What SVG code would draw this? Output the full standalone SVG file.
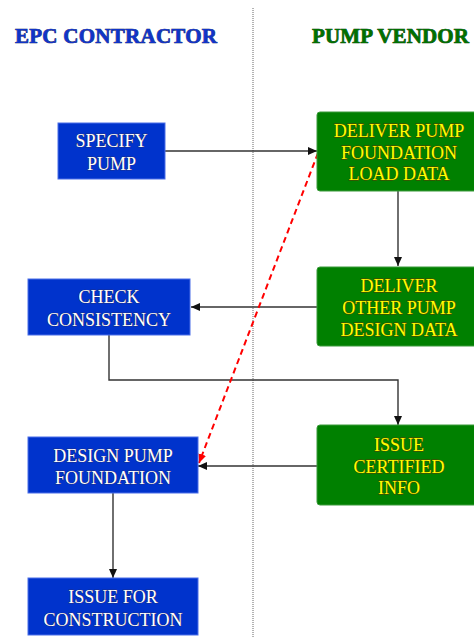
<svg xmlns="http://www.w3.org/2000/svg" width="474" height="638" viewBox="0 0 474 638">
  <style>
    .hdr { font-family: 'Liberation Serif', 'DejaVu Serif', serif; font-weight: bold; font-size: 21px; stroke-width: 0.7; paint-order: stroke; }
    .blue rect { fill: #0033cc; stroke: #4a6ee8; stroke-width: 1; }
    .green rect { fill: #008000; stroke: #3a9a3a; stroke-width: 1; }
    .lbl { font-family: 'Liberation Serif', 'DejaVu Serif', serif; font-size: 18px; text-anchor: middle; }
    .blue .lbl { fill: #ffffff; stroke: #3a2a40; stroke-width: 0.6; paint-order: stroke; }
    .green .lbl { fill: #ffff00; stroke: #5a3a00; stroke-width: 0.8; paint-order: stroke; }
    .conn { fill: none; stroke: #333333; stroke-width: 1.4; }
    .dash { fill: none; stroke: #ff0000; stroke-width: 2; stroke-dasharray: 6 4; }
  </style>
  <defs>
    <marker id="arrow" markerUnits="userSpaceOnUse" markerWidth="10" markerHeight="10" refX="9" refY="5" orient="auto">
      <path d="M0,1 L9,5 L0,9 Z" fill="#111111"/>
    </marker>
    <marker id="arrowRed" markerUnits="userSpaceOnUse" markerWidth="10" markerHeight="10" refX="9" refY="5" orient="auto">
      <path d="M0,1 L9,5 L0,9 Z" fill="#ff0000"/>
    </marker>
  </defs>

  <rect width="474" height="638" fill="#ffffff"/>

  <!-- swimlane divider -->
  <line x1="253" y1="8" x2="253" y2="638" stroke="#666666" stroke-width="1" stroke-dasharray="1 1"/>

  <!-- lane headings -->
  <text id="lane-epc" class="hdr" x="15" y="42.5" fill="#1034c8" stroke="#0a1460" textLength="202">EPC CONTRACTOR</text>
  <text id="lane-vendor" class="hdr" x="312" y="42.5" fill="#007000" stroke="#003000" textLength="157">PUMP VENDOR</text>

  <!-- connectors -->
  <g id="connectors">
    <path class="conn" d="M165,151 H317" marker-end="url(#arrow)"/>
    <path class="conn" d="M398,191 V266" marker-end="url(#arrow)"/>
    <path class="conn" d="M317,307 H191" marker-end="url(#arrow)"/>
    <path class="conn" d="M109,335 V380 H398 V425" marker-end="url(#arrow)"/>
    <path class="conn" d="M317,466 H198" marker-end="url(#arrow)"/>
    <path class="conn" d="M113,493 V578" marker-end="url(#arrow)"/>
    <path class="dash" d="M318,153 L199,463" marker-end="url(#arrowRed)"/>
  </g>

  <!-- EPC contractor tasks -->
  <g id="specify-pump" class="blue">
    <rect x="58" y="123" width="107" height="56"/>
    <text class="lbl" x="111.5" y="147">SPECIFY</text>
    <text class="lbl" x="111.5" y="170">PUMP</text>
  </g>
  <g id="check-consistency" class="blue">
    <rect x="28" y="279" width="162" height="56"/>
    <text class="lbl" x="109" y="303">CHECK</text>
    <text class="lbl" x="109" y="325.5">CONSISTENCY</text>
  </g>
  <g id="design-pump-foundation" class="blue">
    <rect x="28" y="437" width="170" height="56"/>
    <text class="lbl" x="113" y="461.5">DESIGN PUMP</text>
    <text class="lbl" x="113" y="484">FOUNDATION</text>
  </g>
  <g id="issue-for-construction" class="blue">
    <rect x="28" y="578" width="170" height="57"/>
    <text class="lbl" x="113" y="603">ISSUE FOR</text>
    <text class="lbl" x="113" y="626">CONSTRUCTION</text>
  </g>

  <!-- pump vendor tasks -->
  <g id="deliver-foundation-load" class="green">
    <rect x="317" y="112" width="166" height="79" rx="3"/>
    <text class="lbl" x="399" y="137">DELIVER PUMP</text>
    <text class="lbl" x="399" y="158.5">FOUNDATION</text>
    <text class="lbl" x="399" y="180">LOAD DATA</text>
  </g>
  <g id="deliver-design-data" class="green">
    <rect x="317" y="267" width="166" height="79" rx="3"/>
    <text class="lbl" x="399" y="291.5">DELIVER</text>
    <text class="lbl" x="399" y="313.5">OTHER PUMP</text>
    <text class="lbl" x="399" y="336">DESIGN DATA</text>
  </g>
  <g id="issue-certified-info" class="green">
    <rect x="317" y="425" width="166" height="80" rx="3"/>
    <text class="lbl" x="399" y="451">ISSUE</text>
    <text class="lbl" x="399" y="473">CERTIFIED</text>
    <text class="lbl" x="399" y="494">INFO</text>
  </g>
</svg>
